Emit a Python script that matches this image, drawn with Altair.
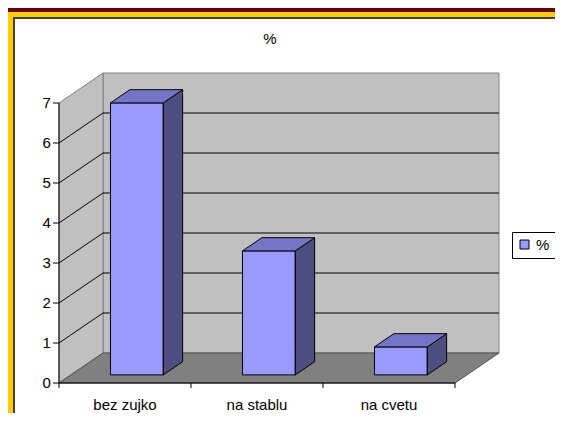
import altair as alt
import pandas as pd

# ---- data ----
categories = ["bez zujko", "na stablu", "na cvetu"]
values = [6.8, 3.1, 0.7]
series_name = "%"
y_ticks = [0, 1, 2, 3, 4, 5, 6, 7]
title_text = "%"

# ---- layout / projection parameters ----
W, H = 547, 405
U_MIN, U_MAX = (8 - 59) / 132, (555 - 59) / 132
V_MIN, V_MAX = (383 - 413) / 40, (383 - 8) / 40
DU, DV = 0.3333, 0.75          # depth offset of the floor (x units, value units)
N = len(categories)
V_TOP = max(y_ticks)
BAR_W = 0.4
D0, D1 = 0.27, 0.71            # bar front / back depth fraction
FONT = "Liberation Sans"
FS = 15

xs = alt.Scale(domain=[U_MIN, U_MAX], nice=False, zero=False)
ys = alt.Scale(domain=[V_MIN, V_MAX], nice=False, zero=False)


def X(f):
    return alt.X(f, type="quantitative", scale=xs, axis=None)


def Y(f):
    return alt.Y(f, type="quantitative", scale=ys, axis=None)


one = alt.Data(values=[{}])

# ---- frame ----
def band(x, x2, y, y2, color):
    return alt.Chart(one).mark_rect(color=color).encode(
        x=alt.value(x), x2=alt.value(x2), y=alt.value(y), y2=alt.value(y2))

frame = [
    band(0, W, 0, 4, "#6E0000"),
    band(0, W, 4, 9, "#FFCC00"),
    band(0, 5, 4, H, "#FFCC00"),
    band(5, W, 9, 11, "#404040"),
    band(5, 7, 9, H, "#404040"),
]

# ---- walls / floor ----
back_df = pd.DataFrame([{"u": DU, "u2": N + DU, "v": DV, "v2": V_TOP + DV}])
back = alt.Chart(back_df).mark_rect(fill="#C0C0C0", stroke="#808080", strokeWidth=1).encode(
    x=X("u"), x2="u2", y=Y("v"), y2="v2")

left_df = pd.DataFrame([{"u": 0, "lo": 0, "hi": V_TOP}, {"u": DU, "lo": DV, "hi": V_TOP + DV}])
left = alt.Chart(left_df).mark_area(fill="#C0C0C0", stroke="#808080", strokeWidth=1).encode(
    x=X("u"), y=Y("lo"), y2="hi")

floor_df = pd.DataFrame([{"v": 0, "a": 0, "b": N}, {"v": DV, "a": DU, "b": N + DU}])
floor = alt.Chart(floor_df).mark_area(orient="horizontal", fill="#808080", stroke="#505050",
                                      strokeWidth=1).encode(
    y=Y("v"), x=X("a"), x2="b")

# gridlines
grid_rows = []
for k in y_ticks[1:-1]:
    grid_rows.append({"u": DU, "u2": N + DU, "v": k + DV, "v2": k + DV})
    grid_rows.append({"u": 0, "u2": DU, "v": k, "v2": k + DV})
grid = alt.Chart(pd.DataFrame(grid_rows)).mark_rule(color="black", strokeWidth=1).encode(
    x=X("u"), x2="u2", y=Y("v"), y2="v2")

# axes lines and ticks
ax_rows = [{"u": 0, "u2": 0, "v": 0, "v2": V_TOP}, {"u": 0, "u2": N, "v": 0, "v2": 0}]
for k in y_ticks:
    ax_rows.append({"u": -0.045, "u2": 0, "v": k, "v2": k})
for i in range(N + 1):
    ax_rows.append({"u": i, "u2": i, "v": 0, "v2": -0.125})
axes = alt.Chart(pd.DataFrame(ax_rows)).mark_rule(color="black", strokeWidth=1).encode(
    x=X("u"), x2="u2", y=Y("v"), y2="v2")

# ---- bars ----
su, sv = (D1 - D0) * DU, (D1 - D0) * DV
front_rows, side_rows, top_rows = [], [], []
for i, (c, val) in enumerate(zip(categories, values)):
    L = i + 0.5 - BAR_W / 2 + D0 * DU
    R = L + BAR_W
    v0 = D0 * DV
    v1 = val + v0
    front_rows.append({"cat": c, "series": series_name, "L": L, "R": R, "v0": v0, "v1": v1})
    side_rows += [{"cat": c, "u": R, "lo": v0, "hi": v1},
                  {"cat": c, "u": R + su, "lo": v0 + sv, "hi": v1 + sv}]
    top_rows += [{"cat": c, "v": v1, "a": L, "b": R},
                 {"cat": c, "v": v1 + sv, "a": L + su, "b": R + su}]

front = alt.Chart(pd.DataFrame(front_rows)).mark_rect(stroke="black", strokeWidth=1).encode(
    x=X("L"), x2="R", y=Y("v0"), y2="v1",
    color=alt.Color("series:N", scale=alt.Scale(range=["#9999FF"]),
                    legend=alt.Legend(title=None, orient="none", legendX=504, legendY=224,
                                      strokeColor="black", padding=5, fillColor="white",
                                      symbolType="square", symbolSize=81,
                                      symbolStrokeColor="black", symbolStrokeWidth=1,
                                      labelFont=FONT, labelFontSize=FS, labelColor="black",
                                      labelOffset=4)))

side = alt.Chart(pd.DataFrame(side_rows)).mark_area(fill="#4D4D80", stroke="black",
                                                      strokeWidth=1).encode(
    x=X("u"), y=Y("lo"), y2="hi", detail="cat:N")

top = alt.Chart(pd.DataFrame(top_rows)).mark_area(orient="horizontal", fill="#7575C8",
                                                     stroke="black", strokeWidth=1).encode(
    y=Y("v"), x=X("a"), x2="b", detail="cat:N")

# ---- texts ----
ylab = alt.Chart(pd.DataFrame({"k": y_ticks, "u": -0.062, "lab": [str(k) for k in y_ticks]})).mark_text(
    align="right", baseline="middle", font=FONT, fontSize=FS, color="black").encode(
    x=X("u"), y=Y("k"), text="lab:N")

xlab = alt.Chart(pd.DataFrame({"cat": categories, "u": [i + 0.5 for i in range(N)],
                               "v": -0.55})).mark_text(
    align="center", baseline="middle", font=FONT, fontSize=FS, color="black").encode(
    x=X("u"), y=Y("v"), text="cat:N")

title = alt.Chart(pd.DataFrame({"t": [title_text], "u": [(270 - 59) / 132],
                                "v": [(383 - 39) / 40]})).mark_text(
    align="center", baseline="middle", font=FONT, fontSize=FS, color="black").encode(
    x=X("u"), y=Y("v"), text="t:N")

chart = alt.layer(*frame, back, left, floor, grid, axes, front, side, top, ylab, xlab, title).properties(
    width=W, height=H, autosize=alt.AutoSizeParams(type="none"), padding=0, background="white"
).configure_view(strokeOpacity=0)

chart.save("out.html", embed_options={"renderer": "svg", "actions": False})
